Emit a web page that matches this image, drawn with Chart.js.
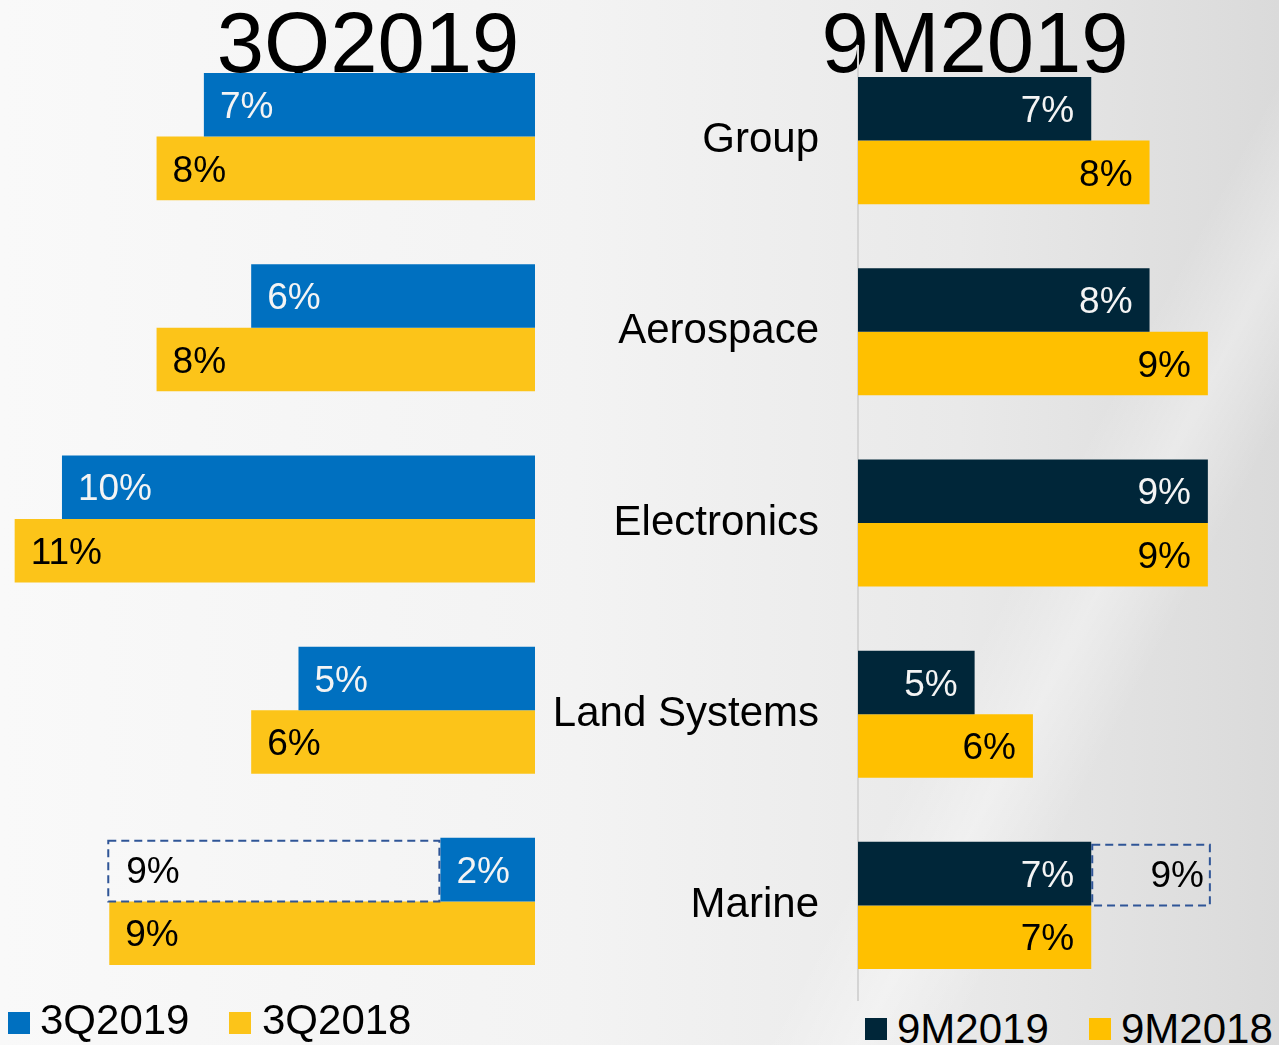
<!DOCTYPE html>
<html>
<head>
<meta charset="utf-8">
<script src="https://cdn.jsdelivr.net/npm/chart.js@4.4.1/dist/chart.umd.min.js"></script>
<style>
  html, body { margin: 0; padding: 0; }
  body {
    width: 1279px; height: 1045px; overflow: hidden; position: relative;
    font-family: "Liberation Sans", Arial, sans-serif;
    background:
      linear-gradient(118deg, rgba(255,255,255,0) 72%, rgba(255,255,255,.35) 77%, rgba(255,255,255,0) 82%),
      linear-gradient(90deg, #f9f9f9 0%, #f3f3f3 45%, #e9e9e9 75%, #dadada 100%);
  }
  .title { position: absolute; top: 0; font-size: 85px; line-height: 85px; color: #000; transform: translateX(-50%); white-space: nowrap; }
  .chart { position: absolute; }
  .leg { position: absolute; font-size: 42px; line-height: 42px; color: #000; white-space: nowrap; }
  .sw { position: absolute; width: 22px; height: 22px; }
</style>
</head>
<body>
<div class="title" style="left:368px">3Q2019</div>
<div class="title" style="left:975px">9M2019</div>

<div class="chart" style="left:0;top:41px"><canvas id="left" width="535" height="956"></canvas></div>
<div class="chart" style="left:540px;top:45px"><canvas id="right" width="739" height="956"></canvas></div>

<!-- legends -->
<div class="sw" style="left:8px;top:1012px;background:#0070c0"></div>
<div class="leg" style="left:40px;top:999px">3Q2019</div>
<div class="sw" style="left:229px;top:1012px;background:#fcc419"></div>
<div class="leg" style="left:262px;top:999px">3Q2018</div>
<div class="sw" style="left:865px;top:1018px;background:#002639"></div>
<div class="leg" style="left:897px;top:1008px">9M2019</div>
<div class="sw" style="left:1089px;top:1018px;background:#ffc000"></div>
<div class="leg" style="left:1121px;top:1008px">9M2018</div>

<script>
// ---- data ----
const categories = ['Group', 'Aerospace', 'Electronics', 'Land Systems', 'Marine'];
const q3y2019 = [7, 6, 10, 5, 2];
const q3y2018 = [8, 8, 11, 6, 9];
const q3Target = [null, null, null, null, 9];   // dashed outline (Marine)
const m9y2019 = [7, 8, 9, 5, 7];
const m9y2018 = [8, 9, 9, 6, 7];
const m9Target = [null, null, null, null, 9];   // dashed outline (Marine)

const BLUE = '#0070c0', GOLD_L = '#fcc419', NAVY = '#002639', GOLD_R = '#ffc000', DASH = '#2f5597';
const FONT = '"Liberation Sans", Arial, sans-serif';

// gap between the actual bar and the target, stacked on top of the actual bar
const gap = (act, tgt) => tgt.map((t, i) => t == null ? null : t - act[i]);

// value labels inside bars + dashed outline for the target segment
const barLabels = {
  id: 'barLabels',
  afterDatasetsDraw(chart, args, opts) {
    const ctx = chart.ctx, area = chart.chartArea;
    ctx.save();
    ctx.font = '37px ' + FONT;
    ctx.textBaseline = 'middle';
    chart.data.datasets.forEach((ds, di) => {
      const meta = chart.getDatasetMeta(di);
      meta.data.forEach((bar, i) => {
        if (ds.data[i] == null) return;
        const p = bar.getProps(['x', 'y', 'base', 'height'], true);
        let left = Math.max(Math.min(p.x, p.base), area.left);
        let right = Math.min(Math.max(p.x, p.base), area.right);
        const top = p.y - p.height / 2;
        if (ds.dashed) {
          if (opts.side === 'left') left -= 2; else right += 3;
          ctx.save();
          ctx.setLineDash([8, 5]);
          ctx.lineWidth = 2;
          ctx.strokeStyle = DASH;
          ctx.strokeRect(left + 1, top + 3, right - left - 2, p.height - 3);
          ctx.restore();
        }
        const txt = (ds.labelVals || ds.data)[i] + '%';
        ctx.fillStyle = ds.labelColor;
        if (opts.side === 'left') {
          ctx.textAlign = 'left';
          ctx.fillText(txt, left + (ds.dashed ? 19 : 16), p.y + 3);
        } else {
          ctx.textAlign = 'right';
          ctx.fillText(txt, right - (ds.dashed ? 7 : 17), p.y + 3);
        }
      });
    });
    ctx.restore();
  }
};

const barOpts = { categoryPercentage: 0.665, barPercentage: 1, borderWidth: 0 };

// ---- left: 3Q2019 vs 3Q2018, bars growing leftwards ----
new Chart(document.getElementById('left'), {
  type: 'bar',
  data: {
    labels: categories,
    datasets: [
      { label: '3Q2019', data: q3y2019, backgroundColor: BLUE, stack: 'a', labelColor: '#f4f4f4' },
      { label: '3Q2019 target', data: gap(q3y2019, q3Target), labelVals: q3Target, backgroundColor: 'rgba(0,0,0,0)', stack: 'a', dashed: true, labelColor: '#000' },
      { label: '3Q2018', data: q3y2018, backgroundColor: GOLD_L, stack: 'b', labelColor: '#000' }
    ]
  },
  options: {
    indexAxis: 'y', responsive: false, animation: false,
    datasets: { bar: barOpts },
    layout: { padding: 0 },
    plugins: { legend: { display: false }, tooltip: { enabled: false }, barLabels: { side: 'left' } },
    scales: {
      x: { display: false, reverse: true, min: 0, max: 11.31 },
      y: { display: false }
    }
  },
  plugins: [barLabels]
});

// ---- right: 9M2019 vs 9M2018 ----
new Chart(document.getElementById('right'), {
  type: 'bar',
  data: {
    labels: categories,
    datasets: [
      { label: '9M2019', data: m9y2019, backgroundColor: NAVY, stack: 'a', base: 3, labelColor: '#f4f4f4' },
      { label: '9M2019 target', data: gap(m9y2019, m9Target), labelVals: m9Target, backgroundColor: 'rgba(0,0,0,0)', stack: 'a', dashed: true, labelColor: '#000' },
      { label: '9M2018', data: m9y2018, backgroundColor: GOLD_R, stack: 'b', base: 3, labelColor: '#000' }
    ]
  },
  options: {
    indexAxis: 'y', responsive: false, animation: false,
    datasets: { bar: barOpts },
    layout: { padding: 0 },
    plugins: { legend: { display: false }, tooltip: { enabled: false }, barLabels: { side: 'right' } },
    scales: {
      x: { display: false, min: 3, max: 10.22 },
      y: {
        grid: { display: false, drawTicks: false },
        border: { display: true, color: '#d4d4d4', width: 2 },
        ticks: { color: '#000', padding: 39, font: { family: FONT, size: 42 } },
        afterFit(s) { s.width = 318; s.paddingTop = 0; s.paddingBottom = 0; }
      }
    }
  },
  plugins: [barLabels]
});
</script>
</body>
</html>
